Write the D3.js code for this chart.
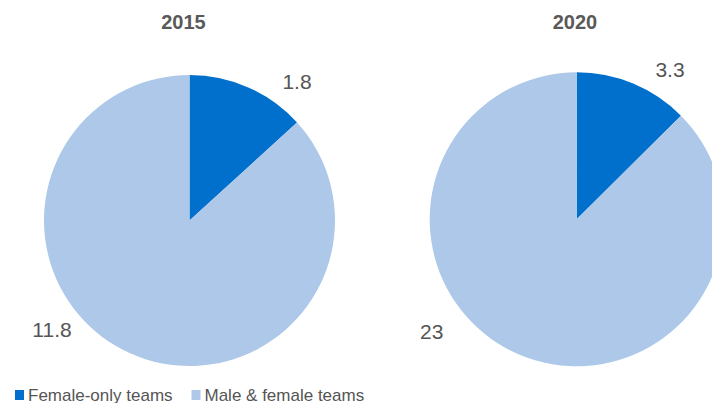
<!DOCTYPE html>
<html>
<head>
<meta charset="utf-8">
<script src="https://cdn.jsdelivr.net/npm/d3@7"></script>
<style>
  html, body { margin: 0; padding: 0; background: #fff; }
  svg { display: block; }
  text { font-family: "Liberation Sans", Arial, Helvetica, sans-serif; }
</style>
</head>
<body>
<svg id="chart" width="712" height="403"></svg>
<script>
// Team composition data
const categories = ["Female-only teams", "Male & female teams"];
const years = ["2015", "2020"];
const values2015 = [1.8, 11.8];
const values2020 = [3.3, 23];
const colors = ["#0070cc", "#adc8e8"];

const seriesByYear = [values2015, values2020];

// Layout for each pie: centre, radius, title x, label offsets from centre
const layout = [
  { cx: 189.5, cy: 220.5, r: 145.5, titleX: 183.5, labels: [[107.5, -139.5], [-137.5, 109]] },
  { cx: 576.7, cy: 219.3, r: 147,   titleX: 575, labels: [[93.3, -150], [-145, 112]] }
];

const svg = d3.select("#chart");

const pie = d3.pie().sort(null).startAngle(0).endAngle(2 * Math.PI);

years.forEach((year, i) => {
  const L = layout[i];
  const arc = d3.arc().innerRadius(0).outerRadius(L.r);
  const g = svg.append("g").attr("transform", `translate(${L.cx},${L.cy})`);

  g.selectAll("path")
    .data(pie(seriesByYear[i]))
    .join("path")
    .attr("d", arc)
    .attr("fill", (d, j) => colors[j]);

  g.selectAll("text.val")
    .data(seriesByYear[i])
    .join("text")
    .attr("class", "val")
    .attr("x", (d, j) => L.labels[j][0])
    .attr("y", (d, j) => L.labels[j][1])
    .attr("text-anchor", "middle")
    .attr("dominant-baseline", "central")
    .attr("font-size", 21)
    .attr("fill", "#555555")
    .text(d => d);

  svg.append("text")
    .attr("x", L.titleX)
    .attr("y", 29)
    .attr("text-anchor", "middle")
    .attr("font-size", 20)
    .attr("font-weight", "bold")
    .attr("fill", "#595959")
    .text(year);
});

// Legend
const legendX = [15, 191.5];
const legend = svg.append("g");
categories.forEach((c, j) => {
  legend.append("rect")
    .attr("x", legendX[j])
    .attr("y", 390)
    .attr("width", 9)
    .attr("height", 10)
    .attr("fill", colors[j]);
  legend.append("text")
    .attr("x", legendX[j] + 13)
    .attr("y", 401)
    .attr("font-size", 17)
    .attr("fill", "#555555")
    .text(c);
});
</script>
</body>
</html>
